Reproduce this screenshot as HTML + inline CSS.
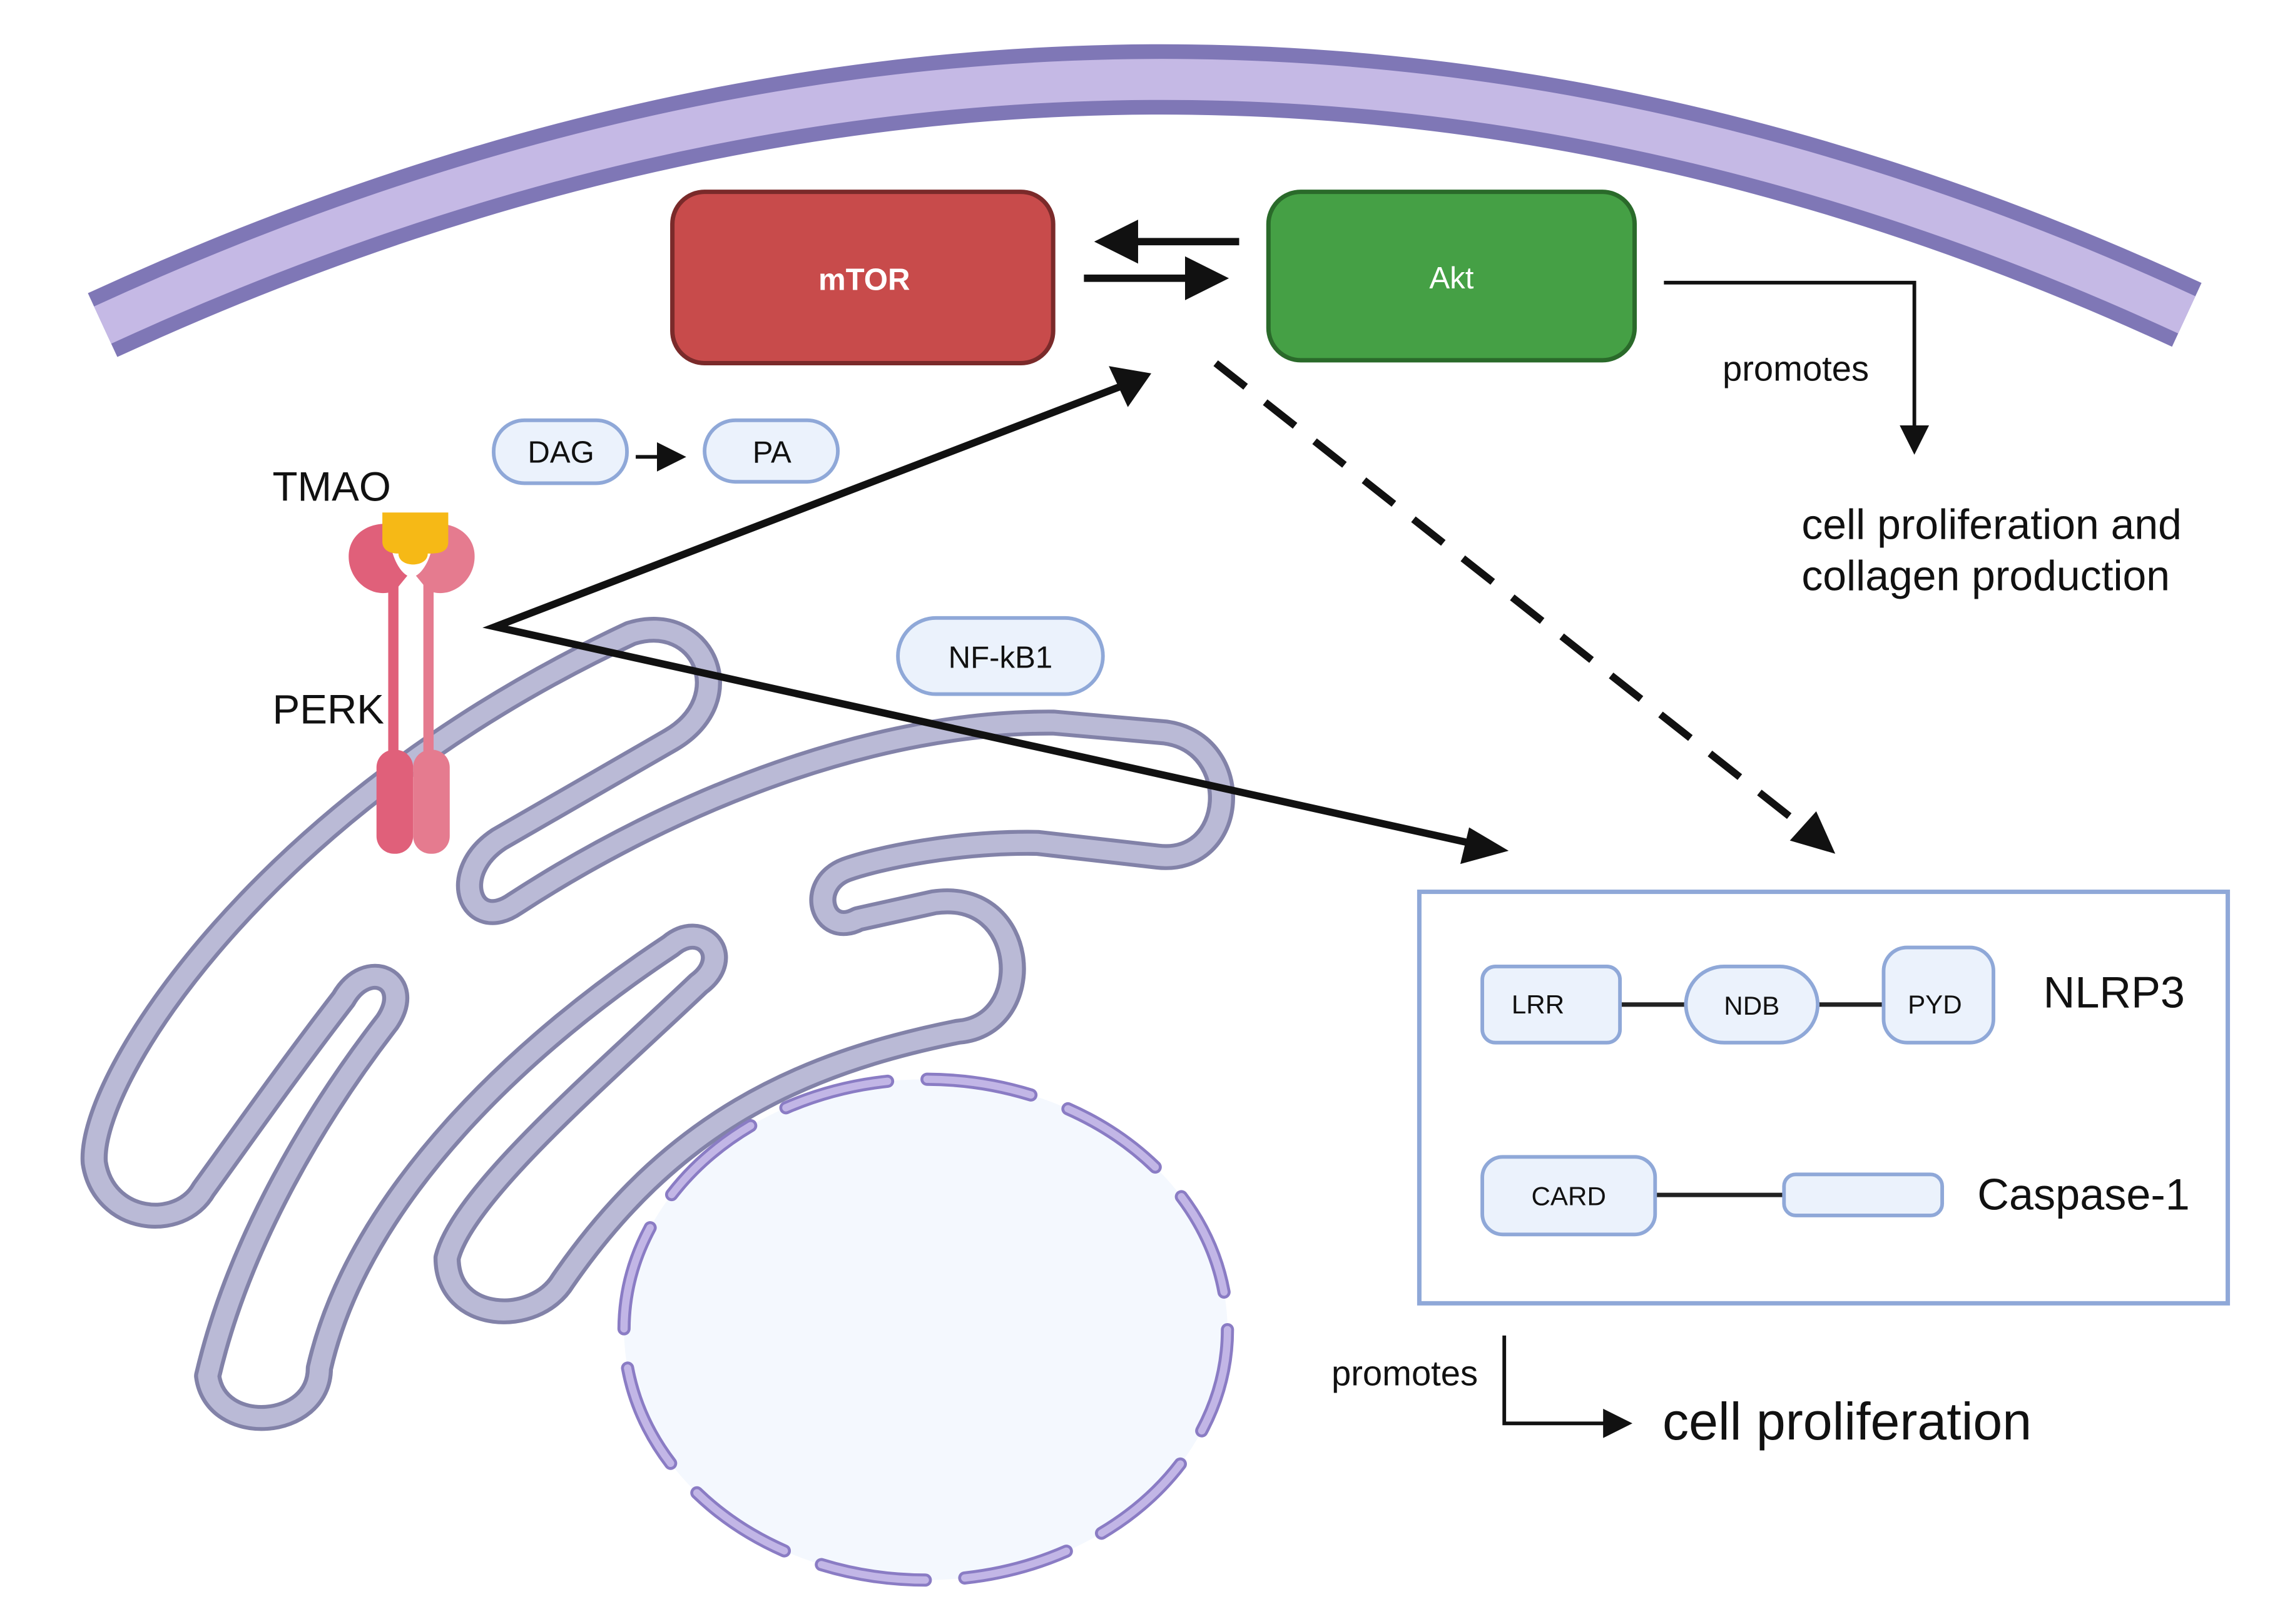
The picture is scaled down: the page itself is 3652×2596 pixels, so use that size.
<!DOCTYPE html>
<html><head><meta charset="utf-8"><style>
html,body{margin:0;padding:0;background:#fff;}
svg{display:block;}
text{font-family:"Liberation Sans",sans-serif;}
</style></head><body>
<svg width="3652" height="2596" viewBox="0 0 1560 1109" xmlns="http://www.w3.org/2000/svg">
<defs>
<marker id="ah" markerWidth="6" markerHeight="6" refX="5" refY="3" orient="auto" markerUnits="strokeWidth"><path d="M0,0 L6,3 L0,6 Z" fill="#111"/></marker>
<marker id="ah2" markerWidth="8" markerHeight="8" refX="7" refY="4" orient="auto" markerUnits="strokeWidth"><path d="M0,0 L8,4 L0,8 Z" fill="#111"/></marker>
</defs>
<rect width="1560" height="1109" fill="#fff"/>
<path d="M70,222 Q790,-110 1493,215" fill="none" stroke="#7f77b6" stroke-width="48"/>
<path d="M70,222 Q790,-110 1493,215" fill="none" stroke="#c5b9e5" stroke-width="28"/>

<ellipse cx="632" cy="908" rx="206" ry="171" fill="#f4f8fe"/>

<g transform="translate(0,300) scale(0.545,0.52)">
<path d="M430,735 C360,830 300,920 255,985 C225,1040 130,1030 118,950 C110,840 330,480 790,255 C880,225 930,340 840,395 L625,525 C560,570 590,650 645,610 C850,470 1100,370 1320,372 L1460,385 C1560,400 1550,560 1450,548 L1300,530 C1200,528 1100,550 1060,565 C1010,585 1030,655 1075,630 L1170,608 C1290,590 1300,770 1200,778 C1000,820 840,900 705,1105 C670,1165 560,1160 560,1075 C580,990 760,830 875,715 C920,680 880,630 840,665 C660,790 450,990 400,1220 C400,1300 270,1310 260,1230 C300,1050 400,880 485,765 C520,710 460,680 430,735 Z" fill="none" stroke="#8282a8" stroke-width="34" stroke-linejoin="round"/>
<path d="M430,735 C360,830 300,920 255,985 C225,1040 130,1030 118,950 C110,840 330,480 790,255 C880,225 930,340 840,395 L625,525 C560,570 590,650 645,610 C850,470 1100,370 1320,372 L1460,385 C1560,400 1550,560 1450,548 L1300,530 C1200,528 1100,550 1060,565 C1010,585 1030,655 1075,630 L1170,608 C1290,590 1300,770 1200,778 C1000,820 840,900 705,1105 C670,1165 560,1160 560,1075 C580,990 760,830 875,715 C920,680 880,630 840,665 C660,790 450,990 400,1220 C400,1300 270,1310 260,1230 C300,1050 400,880 485,765 C520,710 460,680 430,735 Z" fill="none" stroke="#babad6" stroke-width="24" stroke-linejoin="round"/>
</g>

<ellipse cx="632" cy="908" rx="206" ry="171" fill="none" stroke="#8a7cc4" stroke-width="9" stroke-dasharray="72 27" stroke-linecap="round"/>
<ellipse cx="632" cy="908" rx="206" ry="171" fill="none" stroke="#c2b6e6" stroke-width="5" stroke-dasharray="72 27" stroke-linecap="round"/>

<rect x="459" y="131" width="260" height="117" rx="22" fill="#c84b4b" stroke="#7a2a2a" stroke-width="3"/>
<text x="590" y="198" font-size="21" font-weight="bold" fill="#fff" text-anchor="middle">mTOR</text>
<rect x="866" y="131" width="250" height="115" rx="22" fill="#45a045" stroke="#2a6a2a" stroke-width="3"/>
<text x="991" y="197" font-size="21" fill="#fff" text-anchor="middle">Akt</text>
<line x1="846" y1="165" x2="752" y2="165" stroke="#111" stroke-width="5" marker-end="url(#ah)"/>
<line x1="740" y1="190" x2="834" y2="190" stroke="#111" stroke-width="5" marker-end="url(#ah)"/>

<polyline points="1136,193 1307,193 1307,308" fill="none" stroke="#111" stroke-width="2.5" marker-end="url(#ah2)"/>
<text x="1176" y="260" font-size="24" fill="#111">promotes</text>
<text x="1230" y="368" font-size="29" fill="#111">cell proliferation and</text>
<text x="1230" y="403" font-size="29" fill="#111">collagen production</text>

<rect x="337" y="287" width="91" height="43" rx="21" fill="#ebf2fc" stroke="#8fa8d8" stroke-width="2.5"/>
<text x="383" y="316" font-size="21" text-anchor="middle" fill="#111">DAG</text>
<line x1="434" y1="312" x2="466" y2="312" stroke="#111" stroke-width="2.5" marker-end="url(#ah2)"/>
<rect x="481" y="287" width="91" height="42" rx="21" fill="#ebf2fc" stroke="#8fa8d8" stroke-width="2.5"/>
<text x="527" y="316" font-size="21" text-anchor="middle" fill="#111">PA</text>
<rect x="613" y="422" width="140" height="52" rx="26" fill="#ebf2fc" stroke="#8fa8d8" stroke-width="2.5"/>
<text x="683" y="456" font-size="21" text-anchor="middle" fill="#111">NF-kB1</text>

<text x="186" y="342" font-size="28" fill="#111">TMAO</text>
<text x="186" y="494" font-size="28" fill="#111">PERK</text>
<rect x="265" y="395" width="7" height="125" fill="#e0607a"/>
<rect x="289" y="395" width="7" height="125" fill="#e57b8f"/>
<path d="M279,362 C262,352 238,360 238,380 C238,398 256,410 270,403 L279,392 Z" fill="#e0607a"/>
<path d="M283,362 C300,352 324,360 324,380 C324,398 306,410 292,403 L283,392 Z" fill="#e57b8f"/>
<path d="M266,368 C268,385 276,394 281,394 C286,394 294,385 296,368 Z" fill="#fff"/>
<path d="M261,350 L306,350 L306,370 C306,378 298,378 292,378 C292,388 272,388 272,378 C264,378 261,374 261,370 Z" fill="#f6b916"/>
<rect x="257" y="512" width="25" height="71" rx="12" fill="#e0607a"/>
<rect x="282" y="512" width="25" height="71" rx="12" fill="#e57b8f"/>

<polyline points="770,262 338,428 1005,576" fill="none" stroke="#111" stroke-width="5" stroke-linejoin="miter"/>
<path d="M786,255 L757,250 L770,278 Z" fill="#111"/>
<path d="M1030,581 L1003,565 L997,590 Z" fill="#111"/>
<line x1="830" y1="248" x2="1225" y2="560" stroke="#111" stroke-width="5" stroke-dasharray="26 17"/>
<path d="M1253,583 L1240,554 L1222,574 Z" fill="#111"/>

<rect x="969" y="609" width="552" height="281" fill="#fff" stroke="#8fa8d8" stroke-width="3"/>
<line x1="1106" y1="686" x2="1151" y2="686" stroke="#222" stroke-width="3"/>
<line x1="1241" y1="686" x2="1286" y2="686" stroke="#222" stroke-width="3"/>
<rect x="1012" y="660" width="94" height="52" rx="9" fill="#ebf2fc" stroke="#8fa8d8" stroke-width="2.5"/>
<text x="1050" y="692" font-size="18" text-anchor="middle" fill="#111">LRR</text>
<rect x="1151" y="660" width="90" height="52" rx="26" fill="#ebf2fc" stroke="#8fa8d8" stroke-width="2.5"/>
<text x="1196" y="693" font-size="18" text-anchor="middle" fill="#111">NDB</text>
<rect x="1286" y="647" width="75" height="65" rx="16" fill="#ebf2fc" stroke="#8fa8d8" stroke-width="2.5"/>
<text x="1321" y="692" font-size="18" text-anchor="middle" fill="#111">PYD</text>
<text x="1395" y="688" font-size="30" fill="#111">NLRP3</text>
<line x1="1130" y1="816" x2="1218" y2="816" stroke="#222" stroke-width="3"/>
<rect x="1012" y="790" width="118" height="53" rx="14" fill="#ebf2fc" stroke="#8fa8d8" stroke-width="2.5"/>
<text x="1071" y="823" font-size="18" text-anchor="middle" fill="#111">CARD</text>
<rect x="1218" y="802" width="108" height="28" rx="8" fill="#ebf2fc" stroke="#8fa8d8" stroke-width="2.5"/>
<text x="1350" y="826" font-size="30" fill="#111">Caspase-1</text>

<text x="909" y="946" font-size="24" fill="#111">promotes</text>
<polyline points="1027,912 1027,972 1112,972" fill="none" stroke="#111" stroke-width="2.5" marker-end="url(#ah2)"/>
<text x="1135" y="983" font-size="36" fill="#111">cell proliferation</text>
</svg>
</body></html>
